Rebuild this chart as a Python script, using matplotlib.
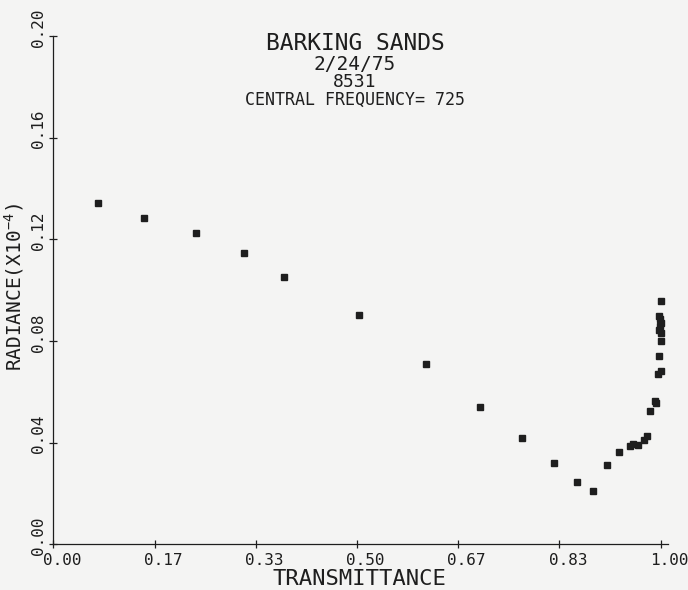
import matplotlib
matplotlib.use("Agg")
import matplotlib.pyplot as plt
import matplotlib.transforms as mtransforms

# ---- data ----
transmittance = [0.073, 0.150, 0.235, 0.314, 0.379, 0.504, 0.613, 0.702, 0.772,
                 0.824, 0.862, 0.889, 0.911, 0.931, 0.949, 0.955, 0.962, 0.972,
                 0.978, 0.983, 0.990, 0.993, 0.995, 1.000, 0.997, 1.000, 0.998,
                 0.999, 1.000, 0.999, 0.998, 1.000, 1.000]
radiance = [0.1342, 0.1284, 0.1224, 0.1147, 0.1053, 0.0902, 0.0708, 0.0539, 0.0419,
            0.0321, 0.0244, 0.0210, 0.0312, 0.0363, 0.0387, 0.0395, 0.0391, 0.0410,
            0.0426, 0.0524, 0.0564, 0.0556, 0.0670, 0.0682, 0.0742, 0.0801, 0.0898,
            0.0885, 0.0870, 0.0858, 0.0845, 0.0830, 0.0958]
xticks = [0.0, 1/6, 2/6, 3/6, 4/6, 5/6, 1.0]
xticklabels = ["0.00", "0.17", "0.33", "0.50", "0.67", "0.83", "1.00"]
yticks = [0.00, 0.04, 0.08, 0.12, 0.16, 0.20]
yticklabels = ["0.00", "0.04", "0.08", "0.12", "0.16", "0.20"]
title_lines = ["BARKING SANDS", "2/24/75", "8531", "CENTRAL FREQUENCY= 725"]

plt.rcParams['font.family'] = ['DejaVu Sans Mono', 'DejaVu Sans']
plt.rcParams['mathtext.default'] = 'regular'

INK = '#1e1e1e'
BG = '#f4f4f3'

W, H = 688, 590
fig = plt.figure(figsize=(W/100, H/100), dpi=100, facecolor=BG)
ax = fig.add_axes([53.3/W, 45.7/H, 614.4/W, 508.3/H])
ax.set_facecolor(BG)

ax.plot(transmittance, radiance, linestyle='none', marker='s',
        markersize=3.8, color=INK)

ax.set_xlim(0, 1.0115)
ax.set_ylim(0, 0.20)
for s in ['top', 'right']:
    ax.spines[s].set_visible(False)
for s in ['left', 'bottom']:
    ax.spines[s].set_color(INK)
    ax.spines[s].set_linewidth(0.9)

ax.set_xticks(xticks)
ax.set_xticklabels(xticklabels)
ax.set_yticks(yticks)
ax.set_yticklabels(yticklabels)
ax.tick_params(axis='both', direction='inout', length=6, width=0.9,
               colors=INK, pad=0)
ax.tick_params(axis='x', labelsize=11.5)
ax.tick_params(axis='y', labelsize=11.5)

dpi = fig.dpi
for lab in ax.get_xticklabels():
    lab.set_va('center')
    lab.set_ha('center')
    lab.set_transform(lab.get_transform() +
                      mtransforms.ScaledTranslation(8.5/dpi, -12/dpi, fig.dpi_scale_trans))
for lab in ax.get_yticklabels():
    lab.set_rotation(90)
    lab.set_va('center')
    lab.set_ha('center')
    lab.set_transform(lab.get_transform() +
                      mtransforms.ScaledTranslation(-10.5/dpi, 8.5/dpi, fig.dpi_scale_trans))

# titles (baselines in pixels from top)
sizes = [16.5, 14, 13, 12]
baselines = [50, 70, 87, 105]
for t, s, b in zip(title_lines, sizes, baselines):
    fig.text(355/W, 1 - b/H, t, ha='center', va='baseline', fontsize=s, color=INK)

fig.text(359/W, 1 - 585/H, "TRANSMITTANCE", ha='center', va='baseline',
         fontsize=16, color=INK)
fig.text(14/W, 1 - 287/H, "RADIANCE(X10$^{-4}$)", ha='center', va='center',
         rotation=90, fontsize=14, color=INK)

fig.savefig("out.png", dpi=100, facecolor=BG)
